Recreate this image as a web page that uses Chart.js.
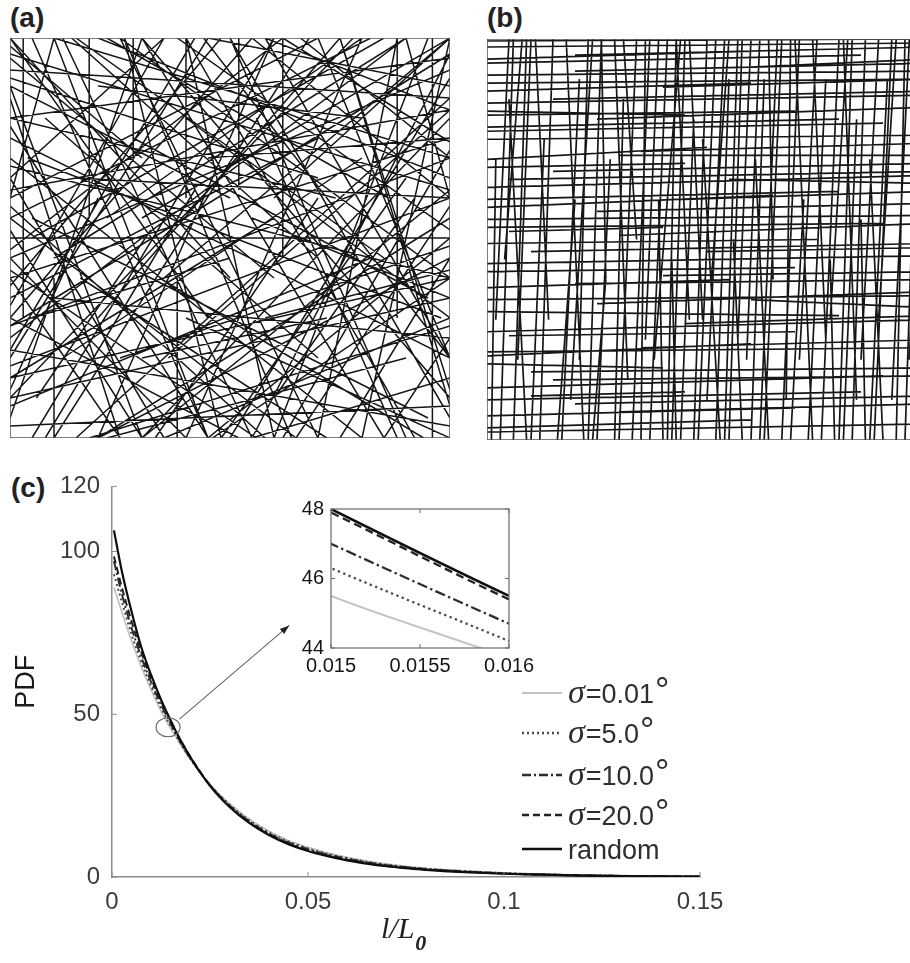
<!DOCTYPE html>
<html>
<head>
<meta charset="utf-8">
<script src="https://cdn.jsdelivr.net/npm/chart.js@4/dist/chart.umd.min.js"></script>
<style>
  html, body { margin: 0; padding: 0; background: #fff; }
  body { position: relative; width: 910px; height: 963px; overflow: hidden; font-family: 'Liberation Sans', Arial, sans-serif; }
  canvas { position: absolute; }
  .panel_label { position: absolute; font: bold 28px 'Liberation Sans', Arial, sans-serif; color: #222; line-height: 32px; }
  #xtitle { position: absolute; left: 381px; top: 910px; font: italic 30px 'Liberation Serif', 'Times New Roman', serif; color: #222; line-height: 36px; }
  #xtitle span { font-weight: bold; font-size: 22px; position: relative; top: 12px; margin-left: 1px; }
</style>
</head>
<body>
<div class="panel_label" style="left:10px;top:2px">(a)</div>
<div class="panel_label" style="left:487px;top:2px">(b)</div>
<div class="panel_label" style="left:11px;top:472px">(c)</div>
<canvas id="chart_a" width="440" height="400" style="left:10px;top:38px"></canvas>
<canvas id="chart_b" width="440" height="401" style="left:487px;top:39px"></canvas>
<canvas id="chart_pdf" width="910" height="503" style="left:0;top:460px"></canvas>
<canvas id="chart_inset" width="260" height="190" style="left:280px;top:490px"></canvas>
<div id="xtitle">l/L<span>0</span></div>
<script>
// ---- data: fibre segments in a unit box (0..100), [x1, y1, x2, y2]
const segs_a = [
  [0,95,60,40],[5,100,45,0],[10,100,100,70],[0,80,100,95],[18,100,18,55],[0,60,70,100],
  [20,0,100,55],[0,30,55,100],[30,100,85,0],[0,10,100,35],[40,100,40,60],[0,50,100,50],
  [5,0,60,100],[25,0,0,40],[50,0,100,90],[70,100,100,20],[0,70,80,0],[10,45,90,100],
  [60,100,20,0],[100,10,30,100],[0,20,45,100],[35,0,100,30],[55,100,100,60],[0,88,50,60],
  [75,0,100,45],[88,100,88,30],[95,100,60,0],[0,40,100,75],[15,0,100,85],[65,0,0,55],
  [100,65,20,100],[0,5,30,100],[45,0,10,100],[80,100,40,0],[100,40,0,15],[55,0,100,15],
  [0,65,35,0],[25,100,100,40],[90,0,50,100],[0,75,100,20],[100,80,30,0],[5,55,95,5],
  [62,100,62,45],[0,35,70,75],[30,55,100,100],[12,20,80,70],[0,92,100,85],[38,0,38,40],
  [20,30,75,100],[100,50,45,0],[0,15,60,55],[50,100,100,5],[8,80,70,20],[85,0,100,25],
  [0,58,58,0],[70,0,25,100],[100,92,0,45],[40,30,100,0],[15,65,100,60],[0,25,90,100],
  [96,100,96,0],[3,100,3,30],[28,75,95,35],[0,98,30,70],[60,60,100,100],[78,100,0,10],
  [50,40,0,100],[100,30,40,80],[33,0,70,60],[0,3,100,8],[22,0,90,20],[100,58,65,0],
  [45,70,100,75],[0,45,40,0],[85,45,15,100],[10,0,10,40],[92,60,60,10],[35,100,0,65],
  [72,30,30,20],[58,100,100,82],[0,85,25,0],[100,12,75,100],[48,0,90,65],[20,88,80,80],
  [5,30,50,45],[66,100,100,70],[100,35,55,55],[0,12,20,60],[40,100,92,0],[80,0,100,100],
  [0,68,100,40],[30,0,0,88],[62,0,100,72],[14,100,70,45],[0,38,48,100],[100,25,10,35],
  [42,100,0,22],[75,100,100,8],[25,20,100,48],[0,100,45,30],[68,100,10,0],[100,100,35,40],
  [52,100,52,62],[0,55,82,100],[100,70,0,28],[8,0,42,62],[58,30,100,42],[26,100,48,0],
  [0,90,70,65],[12,100,55,0],[100,88,45,100],[0,47,62,100],[30,0,100,62],[85,100,5,50],
  [0,18,100,60],[64,0,26,100],[100,45,20,0],[0,78,45,0],[18,0,100,28],[90,100,100,60],
  [0,33,35,100],[52,0,0,30],[100,20,58,100],[38,100,100,52],[0,62,100,82],[70,0,88,100],
  [10,100,0,60],[46,0,100,40],[0,8,82,45],[28,100,28,70],[100,96,55,0],[0,52,30,0],
  [80,100,22,55],[60,0,40,100],[0,28,100,96],[94,0,34,40],[16,40,72,0],[100,74,62,100],
  [4,70,98,30],[44,100,100,20],[0,96,100,62],[36,20,100,82],[0,42,56,0],[74,60,0,80],
  [22,100,86,60],[100,3,0,22],[56,80,88,0],[6,10,32,52]
];
const segs_b = [
  // nearly vertical fibres
  [3,0,6,100],[7,20,10,100],[9,0,5,85],[12,0,15,100],[14,30,11,100],[17,0,21,90],
  [19,10,24,100],[22,0,18,100],[25,0,28,70],[27,40,26,100],[30,0,34,100],[32,15,29,100],
  [35,0,36,100],[37,0,41,100],[38,20,44,100],[40,0,39,60],[42,0,45,100],[44,0,47,80],
  [46,30,43,100],[48,0,52,100],[50,10,54,100],[53,0,49,75],[55,0,58,100],[57,25,60,100],
  [60,0,63,90],[62,0,66,100],[65,40,64,100],[67,0,71,100],[69,0,72,60],[71,20,75,100],
  [74,0,70,100],[76,0,80,100],[78,30,82,100],[81,0,84,80],[83,0,86,100],[85,20,89,100],
  [88,0,92,100],[90,0,87,70],[92,10,96,100],[95,0,98,100],[97,0,99,60],[4,45,8,100],
  [24,0,27,40],[58,0,56,50],[79,0,78,45],[1,0,2,70],[34,50,31,100],[43,0,42,45],
  [51,40,55,100],[64,0,61,70],[86,0,85,55],[16,0,20,60],
  [6,0,9,100],[10,0,13,75],[21,20,23,100],[23,0,26,100],[29,0,31,85],[33,0,37,100],
  [36,25,39,100],[41,0,43,100],[47,0,50,100],[49,30,46,100],[52,0,55,90],[54,0,57,100],
  [59,20,62,100],[63,0,67,100],[68,10,69,100],[73,0,77,90],[77,25,74,100],[80,0,83,100],
  [84,10,81,100],[87,0,91,90],[89,30,93,100],[93,0,95,100],[96,20,99,100],[2,30,5,100],
  // nearly horizontal fibres
  [0,2,100,4],[0,6,70,8],[20,9,100,11],[0,13,90,16],[10,17,100,18],[0,21,60,24],
  [35,23,100,25],[0,27,100,30],[0,32,80,31],[25,34,100,37],[0,38,55,40],[40,41,100,42],
  [0,44,100,46],[0,49,75,50],[30,51,100,54],[0,55,100,56],[0,58,65,61],[45,60,100,62],
  [0,63,100,66],[15,67,100,69],[0,70,50,73],[35,72,100,74],[0,75,100,76],[0,78,80,80],
  [25,80,100,83],[0,84,100,86],[0,87,60,89],[40,88,100,90],[0,91,100,92],[0,94,85,96],
  [20,96,100,98],[0,98,100,99],[10,11,45,12],[60,35,100,33],[5,52,40,53],[55,65,100,64],
  [0,19,40,18],[50,47,100,48],[0,82,45,81],[60,93,100,95],
  [0,3,60,5],[30,7,100,9],[0,10,85,12],[15,15,100,16],[0,22,100,23],[5,26,70,27],
  [45,29,100,31],[0,35,100,36],[20,39,100,40],[0,42,70,43],[10,47,100,49],[0,53,90,54],
  [25,57,100,59],[0,60,80,62],[5,65,100,67],[0,68,45,69],[30,71,100,71],[0,77,90,79],
  [0,81,70,82],[15,85,100,87],[0,89,100,90],[20,92,100,94],[0,95,60,97],[0,99.5,100,100]
];

// ---- data: length distribution, x = l/L0
const length_x = [0.0005, 0.0025, 0.005, 0.0075, 0.01, 0.0125, 0.015, 0.016, 0.0175, 0.02,
  0.025, 0.03, 0.035, 0.04, 0.045, 0.05, 0.055, 0.06, 0.065, 0.07, 0.075, 0.08, 0.09, 0.1,
  0.11, 0.12, 0.13, 0.14, 0.15];
const pdf_sigma001 = [89, 81.5, 72.5, 64.5, 57.5, 51, 45.5, 43.7, 40.6, 36.1, 28.4, 22.5, 17.8,
  14.1, 11.2, 9.1, 7.4, 6.0, 4.9, 4.0, 3.25, 2.65, 1.85, 1.25, 0.85, 0.56, 0.38, 0.25, 0.16];
const pdf_sigma5 = [93, 84.5, 74.5, 66, 58.6, 52, 46.3, 44.2, 41, 36.3, 28.3, 22.2, 17.4,
  13.7, 10.9, 8.8, 7.1, 5.8, 4.7, 3.8, 3.1, 2.55, 1.8, 1.2, 0.8, 0.53, 0.36, 0.23, 0.15];
const pdf_sigma10 = [97, 87, 76.5, 67.5, 59.8, 53, 47.0, 44.7, 41.4, 36.5, 28.2, 21.9, 17.1,
  13.4, 10.6, 8.5, 6.9, 5.6, 4.5, 3.6, 3.0, 2.45, 1.7, 1.1, 0.76, 0.5, 0.34, 0.22, 0.14];
const pdf_sigma20 = [98.5, 89, 78.5, 69, 61, 54, 47.9, 45.4, 42, 36.9, 28.2, 21.7, 16.8,
  13.1, 10.3, 8.2, 6.6, 5.3, 4.3, 3.4, 2.8, 2.3, 1.6, 1.05, 0.72, 0.48, 0.32, 0.21, 0.13];
const pdf_random = [106.5, 94, 81.5, 70.5, 62, 54.5, 48.0, 45.5, 42, 36.8, 28, 21.5, 16.6,
  12.9, 10.1, 8, 6.4, 5.1, 4.1, 3.3, 2.7, 2.2, 1.5, 1.0, 0.7, 0.45, 0.3, 0.2, 0.12];

const series_labels = ['σ=0.01°', 'σ=5.0°', 'σ=10.0°', 'σ=20.0°', 'random'];
const series_values = [pdf_sigma001, pdf_sigma5, pdf_sigma10, pdf_sigma20, pdf_random];

const main_x_ticks = [0, 0.05, 0.1, 0.15];
const main_y_ticks = [0, 50, 100, 120];
const inset_x_ticks = [0.015, 0.0155, 0.016];
const inset_y_ticks = [44, 46, 48];

// marker circle and arrow (data coords of the main chart)
const zoom_circle = [0.0143, 46];
const arrow_from = [0.0172, 48.5];
const arrow_to = [0.0452, 77.3];

// ---- styles per series (same order as series_labels)
const series_styles = [
  {color: '#c4c4c4', width: 1.8, dash: []},
  {color: '#4a4a4a', width: 2, dash: [2, 3]},
  {color: '#2c2c2c', width: 2, dash: [9, 3, 2, 3]},
  {color: '#222222', width: 2, dash: [7, 4]},
  {color: '#0e0e0e', width: 2.2, dash: []}
];

const base_font = "'Liberation Sans', Arial, sans-serif";

function segmentsToPoints(segs){
  let pts = [];
  for (const s of segs){
    pts.push({x: s[0], y: s[1]});
    pts.push({x: s[2], y: s[3]});
    pts.push({x: s[2], y: null}); // break the line
  }
  return pts;
}

function seriesPoints(values){
  return length_x.map((x, i) => ({x: x, y: values[i]}));
}

// frame round the plot area + ticks pointing inwards
const frame_plugin = {
  id: 'frame',
  afterDatasetsDraw(chart, args, opts){
    const {ctx, chartArea: a, scales} = chart;
    ctx.save();
    ctx.strokeStyle = opts.color || '#666';
    ctx.lineWidth = opts.width || 1.5;
    if (opts.box) ctx.strokeRect(a.left, a.top, a.width, a.height);
    if (opts.tick_len){
      ctx.lineWidth = 1;
      ctx.beginPath();
      for (const t of scales.x.ticks){
        const px = scales.x.getPixelForValue(t.value);
        ctx.moveTo(px, a.bottom); ctx.lineTo(px, a.bottom - opts.tick_len);
        if (opts.box){ ctx.moveTo(px, a.top); ctx.lineTo(px, a.top + opts.tick_len); }
      }
      for (const t of scales.y.ticks){
        const py = scales.y.getPixelForValue(t.value);
        ctx.moveTo(a.left, py); ctx.lineTo(a.left + opts.tick_len, py);
        if (opts.box){ ctx.moveTo(a.right, py); ctx.lineTo(a.right - opts.tick_len, py); }
      }
      ctx.stroke();
    }
    ctx.restore();
  }
};

// circle on the curves + arrow towards the inset
const marker_plugin = {
  id: 'marker',
  afterDatasetsDraw(chart){
    const {ctx, scales: {x, y}} = chart;
    ctx.save();
    ctx.strokeStyle = '#6a6a6a';
    ctx.lineWidth = 1.2;
    ctx.beginPath();
    ctx.ellipse(x.getPixelForValue(zoom_circle[0]), y.getPixelForValue(zoom_circle[1]), 12, 9.5, 0, 0, Math.PI*2);
    ctx.stroke();
    const x0 = x.getPixelForValue(arrow_from[0]), y0 = y.getPixelForValue(arrow_from[1]);
    const x1 = x.getPixelForValue(arrow_to[0]), y1 = y.getPixelForValue(arrow_to[1]);
    ctx.beginPath(); ctx.moveTo(x0, y0); ctx.lineTo(x1, y1); ctx.stroke();
    const ang = Math.atan2(y1 - y0, x1 - x0);
    ctx.fillStyle = '#222';
    ctx.beginPath();
    ctx.moveTo(x1, y1);
    ctx.lineTo(x1 - 10*Math.cos(ang - 0.35), y1 - 10*Math.sin(ang - 0.35));
    ctx.lineTo(x1 - 10*Math.cos(ang + 0.35), y1 - 10*Math.sin(ang + 0.35));
    ctx.closePath(); ctx.fill();
    ctx.restore();
  }
};

// legend drawn by hand (sigma in italic serif)
const legend_plugin = {
  id: 'pdf_legend',
  afterDraw(chart, args, opts){
    const ctx = chart.ctx;
    ctx.save();
    series_labels.forEach((label, i) => {
      const st = series_styles[i];
      const cy = opts.rows[i];
      ctx.strokeStyle = st.color;
      ctx.lineWidth = st.width + 0.3;
      ctx.setLineDash(st.dash);
      ctx.beginPath(); ctx.moveTo(opts.x, cy); ctx.lineTo(opts.x + opts.line_len, cy); ctx.stroke();
      ctx.setLineDash([]);
      ctx.fillStyle = '#2e2e2e';
      ctx.textBaseline = 'alphabetic';
      let tx = opts.x + opts.line_len + 6;
      const base = cy + 10;
      if (label.startsWith('σ')){
        ctx.font = "italic 34px 'Liberation Serif', serif";
        ctx.fillText('σ', tx, base);
        tx += ctx.measureText('σ').width + 1;
        const rest = label.slice(1, -1);
        ctx.font = '27px ' + base_font;
        ctx.fillText(rest, tx, base);
        tx += ctx.measureText(rest).width + 1;
        ctx.font = '36px ' + base_font;
        ctx.fillText('°', tx, base);
      } else {
        ctx.font = '27px ' + base_font;
        ctx.fillText(label, tx, base);
      }
    });
    ctx.restore();
  }
};

function networkChart(canvas_id, segs, lw){
  return new Chart(document.getElementById(canvas_id), {
    type: 'line',
    data: {datasets: [{
      data: segmentsToPoints(segs),
      borderColor: '#161616',
      borderWidth: lw,
      pointRadius: 0,
      spanGaps: false,
      tension: 0
    }]},
    options: {
      responsive: false, animation: false, events: [],
      layout: {padding: 0},
      plugins: {legend: {display: false}, tooltip: {enabled: false}, frame: {box: true, color: '#555', width: 1.5}},
      scales: {
        x: {type: 'linear', min: 0, max: 100, display: false},
        y: {type: 'linear', min: 0, max: 100, display: false}
      }
    },
    plugins: [frame_plugin]
  });
}

function pdfDatasets(scale){
  let sets = [];
  // last series first so 'random' is drawn on top
  for (let i = series_labels.length - 1; i >= 0; i--){
    const st = series_styles[i];
    sets.push({
      label: series_labels[i],
      data: seriesPoints(series_values[i]),
      borderColor: st.color,
      borderWidth: st.width * scale,
      borderDash: st.dash.map(d => d * scale),
      pointRadius: 0,
      tension: 0.3,
      cubicInterpolationMode: 'monotone'
    });
  }
  return sets;
}

networkChart('chart_a', segs_a, 1.5);
networkChart('chart_b', segs_b, 1.7);

// main PDF chart
new Chart(document.getElementById('chart_pdf'), {
  type: 'line',
  data: {datasets: pdfDatasets(1)},
  options: {
    responsive: false, animation: false, events: [],
    layout: {padding: {left: 0, top: 23, right: 210, bottom: 0}},
    plugins: {
      legend: {display: false}, tooltip: {enabled: false},
      frame: {box: false, color: '#8c8c8c', tick_len: 5},
      pdf_legend: {x: 522, line_len: 40, rows: [233, 273, 315, 355, 389]}
    },
    scales: {
      x: {
        type: 'linear', min: 0, max: 0.15,
        afterBuildTicks: s => { s.ticks = main_x_ticks.map(v => ({value: v})); },
        afterFit: s => { s.height = 86; },
        grid: {display: false, drawTicks: false},
        border: {color: '#8c8c8c', width: 1.5},
        ticks: {padding: 11, maxRotation: 0, color: '#3c3c3c', font: {family: base_font, size: 24}, callback: v => String(v)}
      },
      y: {
        type: 'linear', min: 0, max: 120,
        afterBuildTicks: s => { s.ticks = main_y_ticks.map(v => ({value: v})); },
        afterFit: s => { s.width = 112; },
        grid: {display: false, drawTicks: false},
        border: {color: '#8c8c8c', width: 1.5},
        ticks: {padding: 12, color: '#3c3c3c', font: {family: base_font, size: 24}, callback: v => String(v)},
        title: {display: true, text: 'PDF', color: '#1a1a1a', font: {family: base_font, size: 27}, padding: {top: 10, bottom: 0}}
      }
    }
  },
  plugins: [frame_plugin, marker_plugin, legend_plugin]
});

// zoomed inset
new Chart(document.getElementById('chart_inset'), {
  type: 'line',
  data: {datasets: pdfDatasets(1.15)},
  options: {
    responsive: false, animation: false, events: [],
    layout: {padding: {left: 0, top: 16, right: 15, bottom: 0}},
    plugins: {
      legend: {display: false}, tooltip: {enabled: false},
      frame: {box: true, color: '#6a6a6a', width: 1.2, tick_len: 4}
    },
    scales: {
      x: {
        type: 'linear', min: 0.015, max: 0.016,
        afterBuildTicks: s => { s.ticks = inset_x_ticks.map(v => ({value: v})); },
        afterFit: s => { s.height = 32; },
        grid: {display: false, drawTicks: false},
        border: {display: false},
        ticks: {padding: 6, maxRotation: 0, color: '#151515', font: {family: base_font, size: 20}, callback: v => String(v)}
      },
      y: {
        type: 'linear', min: 44, max: 48,
        afterBuildTicks: s => { s.ticks = inset_y_ticks.map(v => ({value: v})); },
        afterFit: s => { s.width = 51; },
        grid: {display: false, drawTicks: false},
        border: {display: false},
        ticks: {padding: 7, color: '#151515', font: {family: base_font, size: 20}, callback: v => String(v)}
      }
    }
  },
  plugins: [frame_plugin]
});
</script>
</body>
</html>
